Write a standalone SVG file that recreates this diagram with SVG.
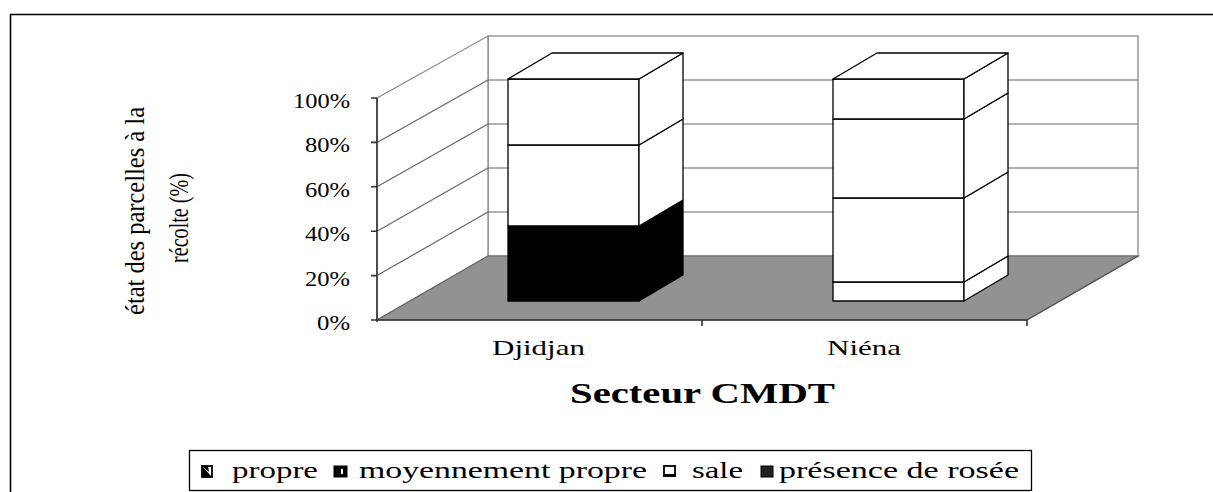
<svg xmlns="http://www.w3.org/2000/svg" width="1213" height="492" viewBox="0 0 1213 492">
  <style>
    .t { font-family: "Liberation Serif", "Times New Roman", serif; fill: #000; }
    .wall { fill: #fff; stroke: #8a8a8a; stroke-width: 1.3; }
    .grid { stroke: #666; stroke-width: 1.2; fill: none; }
    .axis { stroke: #333; stroke-width: 1.6; fill: none; }
    .seg { stroke: #000; stroke-width: 1.3; stroke-linejoin: round; }
    .white { fill: #fff; }
    .black { fill: #000; }
  </style>

  <rect x="0" y="0" width="1213" height="492" fill="#fff"/>
  <!-- chart frame -->
  <path d="M10.5 500 V14.5 H1215" fill="none" stroke="#000" stroke-width="1.6"/>

  <!-- walls and floor -->
  <g id="walls">
    <rect class="wall" x="488" y="36" width="650" height="220"/>
    <polygon class="wall" points="377,98 488,36 488,256 377,320"/>
    <g class="grid">
      <line x1="488" y1="80" x2="1138" y2="80"/>
      <line x1="488" y1="124" x2="1138" y2="124"/>
      <line x1="488" y1="168" x2="1138" y2="168"/>
      <line x1="488" y1="212" x2="1138" y2="212"/>
      <line x1="377" y1="142.4" x2="488" y2="80"/>
      <line x1="377" y1="186.8" x2="488" y2="124"/>
      <line x1="377" y1="231.2" x2="488" y2="168"/>
      <line x1="377" y1="275.6" x2="488" y2="212"/>
    </g>
    <polygon points="377,320 488,256 1138,256 1027,320" fill="#929292" stroke="#666" stroke-width="1.2"/>
  </g>

  <!-- Djidjan bar -->
  <g id="bar-djidjan">
    <rect class="seg black" x="508" y="226" width="131" height="75"/>
    <polygon class="seg black" points="639,301 683,275 683,200 639,226"/>
    <rect class="seg white" x="508" y="145" width="131" height="81"/>
    <polygon class="seg white" points="639,226 683,200 683,119 639,145"/>
    <rect class="seg white" x="508" y="79" width="131" height="66"/>
    <polygon class="seg white" points="639,145 683,119 683,53 639,79"/>
    <polygon class="seg white" points="508,79 552,53 683,53 639,79"/>
  </g>

  <!-- Niéna bar -->
  <g id="bar-niena">
    <rect class="seg white" x="833" y="282" width="131" height="19"/>
    <polygon class="seg white" points="964,301 1008,275 1008,256 964,282"/>
    <rect class="seg white" x="833" y="198" width="131" height="84"/>
    <polygon class="seg white" points="964,282 1008,256 1008,172 964,198"/>
    <rect class="seg white" x="833" y="119" width="131" height="79"/>
    <polygon class="seg white" points="964,198 1008,172 1008,93 964,119"/>
    <rect class="seg white" x="833" y="79" width="131" height="40"/>
    <polygon class="seg white" points="964,119 1008,93 1008,53 964,79"/>
    <polygon class="seg white" points="833,79 877,53 1008,53 964,79"/>
  </g>

  <!-- axes -->
  <g id="axes">
    <path class="axis" d="M377 98 V322"/>
    <path class="axis" d="M371 98 H377 M371 142.4 H377 M371 186.8 H377 M371 231.2 H377 M371 275.6 H377 M371 320 H377"/>
    <path class="axis" d="M377 320 H1027"/>
    <path class="axis" d="M702 320 V326 M1027 320 V326"/>
    <path d="M1027 320 L1138 256" stroke="#555" stroke-width="1.2" fill="none"/>
  </g>

  <!-- value labels -->
  <g id="y-labels" class="t" font-size="20.5" text-anchor="end">
    <text x="350" y="108" textLength="57" lengthAdjust="spacingAndGlyphs">100%</text>
    <text x="350" y="152.4" textLength="45" lengthAdjust="spacingAndGlyphs">80%</text>
    <text x="350" y="196.8" textLength="45" lengthAdjust="spacingAndGlyphs">60%</text>
    <text x="350" y="241.2" textLength="45" lengthAdjust="spacingAndGlyphs">40%</text>
    <text x="350" y="285.6" textLength="45" lengthAdjust="spacingAndGlyphs">20%</text>
    <text x="350" y="330" textLength="33" lengthAdjust="spacingAndGlyphs">0%</text>
  </g>

  <!-- axis title -->
  <g id="y-title" class="t" font-size="23" text-anchor="middle">
    <text transform="translate(144,211) scale(1.2,1) rotate(-90)" textLength="208" lengthAdjust="spacingAndGlyphs">état des parcelles à la</text>
    <text transform="translate(188,218) scale(1.2,1) rotate(-90)" textLength="90" lengthAdjust="spacingAndGlyphs">récolte (%)</text>
  </g>

  <!-- category labels -->
  <g id="x-labels" class="t" font-size="22">
    <text x="492" y="355" textLength="93" lengthAdjust="spacingAndGlyphs">Djidjan</text>
    <text x="827" y="355" textLength="74" lengthAdjust="spacingAndGlyphs">Niéna</text>
  </g>
  <text id="x-title" class="t" x="570" y="403" font-size="29" font-weight="bold" textLength="265" lengthAdjust="spacingAndGlyphs">Secteur CMDT</text>

  <!-- legend -->
  <g id="legend">
    <rect x="189.5" y="450.5" width="842" height="40" fill="#fff" stroke="#000" stroke-width="1.3"/>
    <g id="key-propre">
      <rect x="202" y="466" width="10" height="11" fill="#fff" stroke="#000" stroke-width="1.8"/>
      <polygon points="202,466 212,477 202,477" fill="#000"/>
      <polygon points="202,466 208,466 209,472" fill="#000"/>
    </g>
    <g id="key-moyen">
      <rect x="334" y="466" width="13" height="11" fill="#000" stroke="#000" stroke-width="1"/>
      <rect x="341" y="469" width="2" height="5" fill="#fff"/>
    </g>
    <g id="key-sale">
      <rect x="664" y="466" width="11" height="10" fill="#fff" stroke="#000" stroke-width="1.8"/>
      <rect x="663" y="474" width="13" height="3" fill="#000"/>
    </g>
    <g id="key-rosee">
      <rect x="761" y="466" width="12" height="11" fill="#222" stroke="#000" stroke-width="1"/>
    </g>
    <g class="t" font-size="22.5">
      <text x="232" y="478" textLength="86" lengthAdjust="spacingAndGlyphs">propre</text>
      <text x="359" y="478" textLength="288" lengthAdjust="spacingAndGlyphs">moyennement propre</text>
      <text x="692" y="478" textLength="51" lengthAdjust="spacingAndGlyphs">sale</text>
      <text x="779" y="478" textLength="240" lengthAdjust="spacingAndGlyphs">présence de rosée</text>
    </g>
  </g>
</svg>
